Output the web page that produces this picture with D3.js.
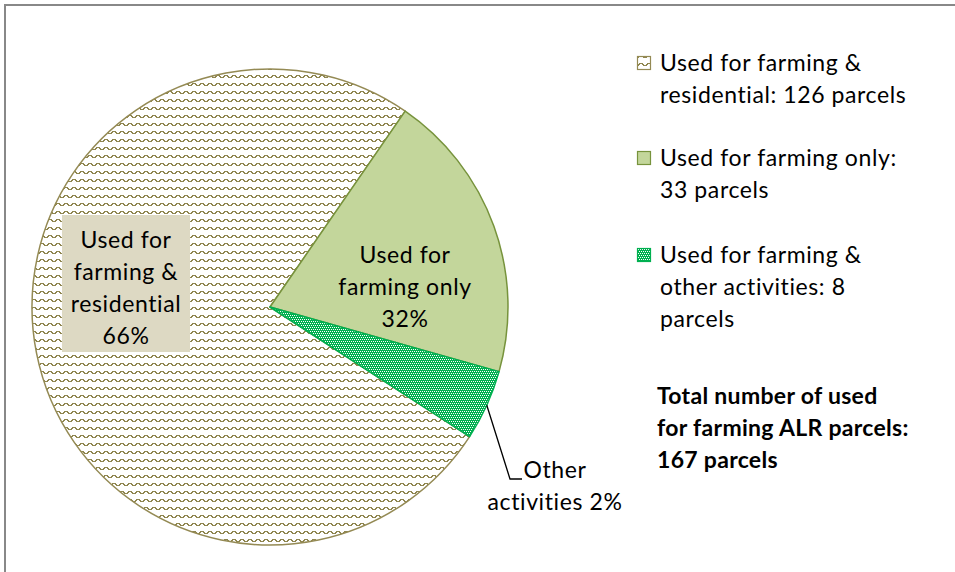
<!DOCTYPE html>
<html>
<head>
<meta charset="utf-8">
<script src="https://cdnjs.cloudflare.com/ajax/libs/d3/7.8.5/d3.min.js"></script>
<style>
  body { margin: 0; background: #fff; }
  text { font-family: Lato, "Open Sans", sans-serif; fill: #000; }
</style>
</head>
<body>
<div id="chart-area"></div>
<script>
// parcel counts per use
var categories = ["Used for farming & residential", "Used for farming only", "Used for farming & other activities"];
var parcels = [126, 33, 8];

// labels as printed on the slices
var sliceLabels = [
    ["Used for", "farming &", "residential", "66%"],
    ["Used for", "farming only", "32%"],
    ["Other", "activities 2%"]
];

var legendLabels = [
    ["Used for farming &", "residential: 126 parcels"],
    ["Used for farming only:", "33 parcels"],
    ["Used for farming &", "other activities: 8", "parcels"]
];

var totalNote = ["Total number of used", "for farming ALR parcels:", "167 parcels"];

var width = 955, height = 572;
var cx = 270, cy = 307, radius = 238;

var svg = d3.select("#chart-area")
    .append("svg")
        .attr("width", width)
        .attr("height", height);

var defs = svg.append("defs");

// zigzag wave fill (olive)
var wave = defs.append("pattern")
    .attr("id", "wave")
    .attr("patternUnits", "userSpaceOnUse")
    .attr("width", 8).attr("height", 8);
wave.append("rect").attr("width", 8).attr("height", 8).attr("fill", "#fff");
[[2,0,4],[1,1,2],[5,1,2],[0,2,2],[6,2,2]].forEach(function(p){
    wave.append("rect")
        .attr("x", p[0]).attr("y", p[1])
        .attr("width", p[2]).attr("height", 1)
        .attr("fill", "#8f8650");
});

// dotted green fill
var dots = defs.append("pattern")
    .attr("id", "dots")
    .attr("patternUnits", "userSpaceOnUse")
    .attr("width", 4).attr("height", 4);
dots.append("rect").attr("width", 4).attr("height", 4).attr("fill", "#00b050");
[[0,0],[2,0],[1,2],[3,2]].forEach(function(p){
    dots.append("rect")
        .attr("x", p[0]).attr("y", p[1])
        .attr("width", 1).attr("height", 1)
        .attr("fill", "#fff");
});

var fills = ["url(#wave)", "#c3d69b", "url(#dots)"];
var strokes = ["#948a54", "#77933c", "#00b050"];

// chart frame
svg.append("rect")
    .attr("x", 5).attr("y", 5)
    .attr("width", 970).attr("height", 600)
    .attr("fill", "none")
    .attr("stroke", "#888")
    .attr("stroke-width", 2);

var startDeg = 123;
var pie = d3.pie()
    .sort(null)
    .startAngle(startDeg * Math.PI / 180)
    .endAngle((startDeg + 360) * Math.PI / 180);

var arc = d3.arc().innerRadius(0).outerRadius(radius);

var arcs = pie(parcels);

var g = svg.append("g")
    .attr("transform", "translate(" + cx + "," + cy + ")");

g.selectAll("path")
    .data(arcs)
    .enter()
    .append("path")
        .attr("d", arc)
        .attr("fill", function(d, i){ return fills[i]; })
        .attr("stroke", function(d, i){ return strokes[i]; })
        .attr("stroke-width", 1.5)
        .attr("stroke-linejoin", "round");

var fontSize = 23;
var spacing = 0.6;
var lineH = 32;

// residential label with box
var resBox = g.append("g").attr("transform", "translate(-144,-22)");
resBox.append("rect")
    .attr("x", -64).attr("y", -70)
    .attr("width", 128).attr("height", 137)
    .attr("fill", "#ddd9c3");
resBox.selectAll("text")
    .data(sliceLabels[0])
    .enter()
    .append("text")
        .attr("text-anchor", "middle")
        .attr("font-size", fontSize)
        .attr("letter-spacing", spacing)
        .attr("x", 0)
        .attr("y", function(d, i){ return -37 + i * lineH; })
        .text(function(d){ return d; });

// farming only label
g.append("g").attr("transform", "translate(135,-12)")
    .selectAll("text")
    .data(sliceLabels[1])
    .enter()
    .append("text")
        .attr("text-anchor", "middle")
        .attr("font-size", fontSize)
        .attr("letter-spacing", spacing)
        .attr("x", 0)
        .attr("y", function(d, i){ return -32 + i * lineH; })
        .text(function(d){ return d; });

// leader line for the small slice
var other = arcs[2];
var mid = (other.startAngle + other.endAngle) / 2;
var p0 = [Math.sin(mid) * radius, -Math.cos(mid) * radius];
var elbow = [240, 172];
g.append("polyline")
    .attr("points", [p0, elbow, [elbow[0] + 12, elbow[1]]].map(function(p){ return p.join(","); }).join(" "))
    .attr("fill", "none")
    .attr("stroke", "#000")
    .attr("stroke-width", 1.3);

g.append("g").attr("transform", "translate(285,171)")
    .selectAll("text")
    .data(sliceLabels[2])
    .enter()
    .append("text")
        .attr("text-anchor", "middle")
        .attr("font-size", fontSize)
        .attr("letter-spacing", spacing)
        .attr("x", 0)
        .attr("y", function(d, i){ return i * lineH; })
        .text(function(d){ return d; });

// legend
var legendTop = [71, 166, 263];
var legend = svg.append("g").attr("transform", "translate(637,0)");
var items = legend.selectAll(".legend-item")
    .data(categories)
    .enter()
    .append("g")
        .attr("class", "legend-item")
        .attr("transform", function(d, i){ return "translate(0," + legendTop[i] + ")"; });

items.append("rect")
    .attr("x", 0.5).attr("y", -14.5)
    .attr("width", 13).attr("height", 13)
    .attr("fill", function(d, i){ return fills[i]; })
    .attr("stroke", function(d, i){ return strokes[i]; })
    .attr("stroke-width", 1.2);

items.each(function(d, i){
    d3.select(this).selectAll("text")
        .data(legendLabels[i])
        .enter()
        .append("text")
            .attr("x", 23)
            .attr("y", function(t, j){ return j * lineH; })
            .attr("font-size", fontSize)
            .attr("letter-spacing", spacing)
            .text(function(t){ return t; });
});

svg.append("g").attr("transform", "translate(657,404)")
    .selectAll("text")
    .data(totalNote)
    .enter()
    .append("text")
        .attr("x", 0)
        .attr("y", function(d, i){ return i * lineH; })
        .attr("font-size", fontSize)
        .attr("font-weight", "bold")
        .attr("letter-spacing", 0.3)
        .text(function(d){ return d; });
</script>
</body>
</html>
